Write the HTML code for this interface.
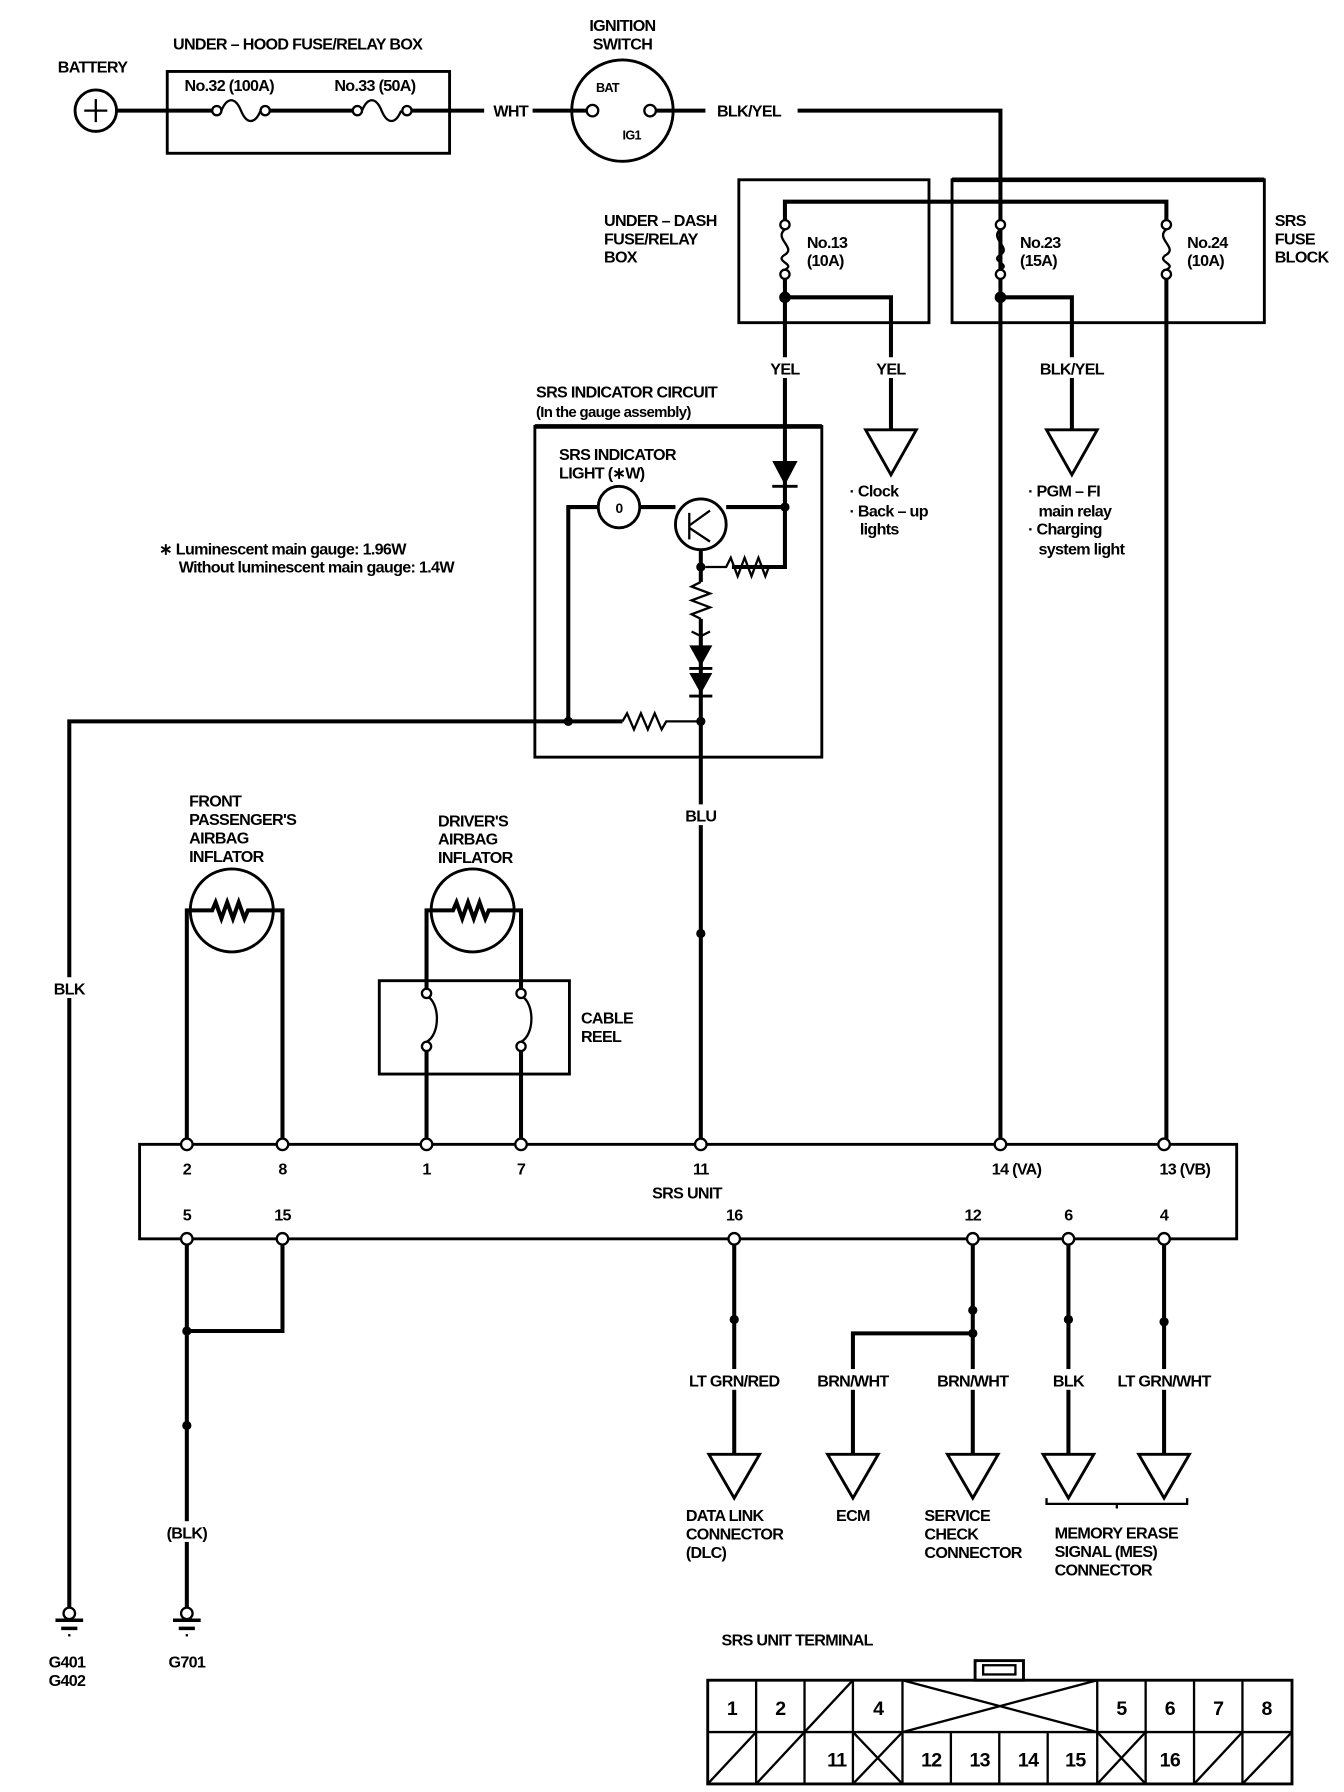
<!DOCTYPE html>
<html><head><meta charset="utf-8"><style>
html,body{margin:0;padding:0;background:#fff;}
svg{display:block;}
text{font-family:"Liberation Sans",sans-serif;font-weight:bold;font-size:14px;fill:#000;letter-spacing:-0.6px;}
.w{stroke:#000;stroke-width:3.5;fill:none;}
.t{stroke:#000;stroke-width:2;fill:none;}
.b{stroke:#000;stroke-width:2.5;fill:none;}
.o{fill:#fff;stroke:#000;stroke-width:2;}
.n{fill:#000;}
</style></head><body>
<svg width="1344" height="1792" viewBox="0 0 1166 1555" xmlns="http://www.w3.org/2000/svg">
<!-- top section -->
<text x="50" y="63">BATTERY</text>
<circle cx="83" cy="96" r="18" class="b"/>
<path d="M73 96h20M83 86v20" class="t"/>
<text x="150" y="43">UNDER – HOOD FUSE/RELAY BOX</text>
<rect x="145" y="62" width="245" height="71" class="b"/>
<text x="160" y="79">No.32 (100A)</text>
<text x="290" y="79">No.33 (50A)</text>
<path d="M101 96H184M234 96H306M357 96H420" class="w"/>
<path d="M192 96c5-12 12-12 17 0s12 12 17 0M314 96c5-12 12-12 17 0s12 12 17 0" class="t"/>
<circle cx="188" cy="96" r="4" class="o"/><circle cx="230" cy="96" r="4" class="o"/>
<circle cx="310" cy="96" r="4" class="o"/><circle cx="353" cy="96" r="4" class="o"/>
<text x="428" y="101">WHT</text>
<path d="M462 96H510" class="w"/>
<text x="540" y="27" text-anchor="middle">IGNITION</text>
<text x="540" y="43" text-anchor="middle">SWITCH</text>
<circle cx="540" cy="96" r="44" class="b"/>
<text x="527" y="80" text-anchor="middle" style="font-size:11px">BAT</text>
<text x="548" y="121" text-anchor="middle" style="font-size:11px">IG1</text>
<circle cx="514" cy="96" r="5" class="o"/><circle cx="564" cy="96" r="5" class="o"/>
<path d="M569 96H612" class="w"/>
<text x="622" y="101">BLK/YEL</text>
<path d="M692 96H868V993" class="w"/>
<!-- fuse boxes -->
<rect x="641" y="156" width="165" height="124" class="b"/>
<rect x="826" y="156" width="271" height="124" class="b"/>
<path d="M826 156H1097" stroke="#000" stroke-width="4"/>
<path d="M681 191V175H1012V191" class="w"/>
<text x="524" y="196">UNDER – DASH</text>
<text x="524" y="212">FUSE/RELAY</text>
<text x="524" y="228">BOX</text>
<text x="1106" y="196">SRS</text>
<text x="1106" y="212">FUSE</text>
<text x="1106" y="228">BLOCK</text>
<g>
<path d="M681 199c-10 8 10 16 0 22s10 8 0 13" class="t"/>
<circle cx="681" cy="195" r="4" class="o"/><circle cx="681" cy="238" r="4" class="o"/>
<path d="M681 242V373" class="w"/>
<path d="M868 199c-10 8 10 16 0 22s10 8 0 13" class="t"/>
<circle cx="868" cy="195" r="4" class="o"/><circle cx="868" cy="238" r="4" class="o"/>
<path d="M1012 199c-10 8 10 16 0 22s10 8 0 13" class="t"/>
<circle cx="1012" cy="195" r="4" class="o"/><circle cx="1012" cy="238" r="4" class="o"/>
<path d="M1012 242V993" class="w"/>
</g>
<text x="700" y="215">No.13</text><text x="700" y="231">(10A)</text>
<text x="885" y="215">No.23</text><text x="885" y="231">(15A)</text>
<text x="1030" y="215">No.24</text><text x="1030" y="231">(10A)</text>
<circle cx="681" cy="258" r="5" class="n"/><circle cx="868" cy="258" r="5" class="n"/>
<path d="M681 258H773V373M868 258H930V373" class="w"/>
<rect x="668" y="310" width="28" height="18" fill="#fff"/>
<rect x="760" y="310" width="28" height="18" fill="#fff"/>
<rect x="900" y="310" width="60" height="18" fill="#fff"/>
<text x="681" y="325" text-anchor="middle">YEL</text>
<text x="773" y="325" text-anchor="middle">YEL</text>
<text x="930" y="325" text-anchor="middle">BLK/YEL</text>
<path d="M751 373H795L773 412Z" class="b"/>
<path d="M908 373H952L930 412Z" class="b"/>
<text x="737" y="431">· Clock</text>
<text x="737" y="448">· Back – up</text>
<text x="746" y="464">lights</text>
<text x="892" y="431">· PGM – FI</text>
<text x="901" y="448">main relay</text>
<text x="892" y="464">· Charging</text>
<text x="901" y="481">system light</text>
<!-- indicator circuit -->
<text x="465" y="345">SRS INDICATOR CIRCUIT</text>
<text x="465" y="362" style="font-size:13px">(In the gauge assembly)</text>
<rect x="464" y="370" width="249" height="287" class="b"/>
<path d="M464 370H713" stroke="#000" stroke-width="4"/>
<text x="485" y="399">SRS INDICATOR</text>
<text x="485" y="415">LIGHT (∗W)</text>
<path d="M681 373V492H635" class="w"/>
<path d="M670 400H692L681 421Z" class="n"/>
<path d="M670 422H692" class="b"/>
<circle cx="681" cy="440" r="4" class="n"/>
<path d="M493 626V440H519M555 440H586M630 440H681" class="w"/>
<circle cx="537" cy="440" r="18" class="b"/>
<text x="537" y="445" text-anchor="middle" style="font-size:12px">0</text>
<circle cx="608" cy="455" r="22" class="b"/>
<path d="M598 445V468M598 456L616 443M598 458L616 470" class="t"/>
<path d="M608 477V505" class="w"/>
<circle cx="608" cy="492" r="4" class="n"/>
<path d="M612 492h18l4-8 6 16 6-16 6 16 6-16 6 16 3-8" class="t"/>
<path d="M608 505l-8 4 16 6-16 6 16 6-16 6 8 4" class="t"/>
<path d="M608 537V626" class="w"/>
<path d="M600 548l8 4 8-4" class="t"/>
<path d="M598 560H618L608 578Z" class="n"/>
<path d="M598 580H618" class="b"/>
<path d="M598 584H618L608 602Z" class="n"/>
<path d="M598 604H618" class="b"/>
<path d="M60 1395V626H540" class="w"/>
<path d="M540 626l4-7 6 14 6-14 6 14 6-14 6 14 4-7H608" class="t"/>
<circle cx="493" cy="626" r="4" class="n"/><circle cx="608" cy="626" r="4" class="n"/>
<text x="138" y="481">∗ Luminescent main gauge: 1.96W</text>
<text x="155" y="497">Without luminescent main gauge: 1.4W</text>
<path d="M608 626V993" class="w"/>
<rect x="592" y="698" width="32" height="18" fill="#fff"/>
<text x="608" y="713" text-anchor="middle">BLU</text>
<circle cx="608" cy="810" r="4" class="n"/>
<rect x="45" y="848" width="30" height="18" fill="#fff"/>
<text x="60" y="863" text-anchor="middle">BLK</text>
<!-- inflators -->
<text x="164" y="700">FRONT</text><text x="164" y="716">PASSENGER'S</text>
<text x="164" y="732">AIRBAG</text><text x="164" y="748">INFLATOR</text>
<circle cx="201" cy="790" r="36" class="b"/>
<path d="M162 993V790H184l3-7 5 14 5-14 5 14 5-14 5 14 3-7H245V993" class="w"/>
<text x="380" y="717">DRIVER'S</text><text x="380" y="733">AIRBAG</text><text x="380" y="749">INFLATOR</text>
<circle cx="410" cy="790" r="36" class="b"/>
<path d="M370 860V790H393l3-7 5 14 5-14 5 14 5-14 5 14 3-7H452V860" class="w"/>
<rect x="329" y="851" width="165" height="81" class="b"/>
<text x="504" y="888">CABLE</text><text x="504" y="904">REEL</text>
<path d="M370 864c12 6 12 34 0 40M452 864c12 6 12 34 0 40" class="t"/>
<circle cx="370" cy="862" r="4" class="o"/><circle cx="370" cy="908" r="4" class="o"/>
<circle cx="452" cy="862" r="4" class="o"/><circle cx="452" cy="908" r="4" class="o"/>
<path d="M370 912V993M452 912V993" class="w"/>
<!-- SRS unit -->
<rect x="121" y="993" width="952" height="82" class="b"/>
<g class="o">
<circle cx="162" cy="993" r="5"/><circle cx="245" cy="993" r="5"/><circle cx="370" cy="993" r="5"/>
<circle cx="452" cy="993" r="5"/><circle cx="608" cy="993" r="5"/><circle cx="868" cy="993" r="5"/><circle cx="1010" cy="993" r="5"/>
</g>
<g text-anchor="middle">
<text x="162" y="1019">2</text><text x="245" y="1019">8</text><text x="370" y="1019">1</text>
<text x="452" y="1019">7</text><text x="608" y="1019">11</text><text x="882" y="1019">14 (VA)</text><text x="1028" y="1019">13 (VB)</text>
<text x="596" y="1040">SRS UNIT</text>
<text x="162" y="1059">5</text><text x="245" y="1059">15</text><text x="637" y="1059">16</text>
<text x="844" y="1059">12</text><text x="927" y="1059">6</text><text x="1010" y="1059">4</text>
</g>
<path d="M162 1080V1395M245 1080V1155H162M637 1080V1262M844 1080V1262M844 1157H740V1262M927 1080V1262M1010 1080V1262" class="w"/>
<g class="o">
<circle cx="162" cy="1075" r="5"/><circle cx="245" cy="1075" r="5"/><circle cx="637" cy="1075" r="5"/>
<circle cx="844" cy="1075" r="5"/><circle cx="927" cy="1075" r="5"/><circle cx="1010" cy="1075" r="5"/>
</g>
<g class="n">
<circle cx="162" cy="1155" r="4"/><circle cx="162" cy="1237" r="4"/><circle cx="637" cy="1145" r="4"/>
<circle cx="844" cy="1137" r="4"/><circle cx="844" cy="1157" r="4"/><circle cx="927" cy="1145" r="4"/><circle cx="1010" cy="1147" r="4"/>
</g>
<rect x="592" y="1188" width="92" height="18" fill="#fff"/>
<rect x="704" y="1188" width="72" height="18" fill="#fff"/>
<rect x="808" y="1188" width="72" height="18" fill="#fff"/>
<rect x="912" y="1188" width="30" height="18" fill="#fff"/>
<rect x="960" y="1188" width="98" height="18" fill="#fff"/>
<g text-anchor="middle">
<text x="637" y="1203">LT GRN/RED</text><text x="740" y="1203">BRN/WHT</text><text x="844" y="1203">BRN/WHT</text>
<text x="927" y="1203">BLK</text><text x="1010" y="1203">LT GRN/WHT</text>
</g>
<g class="b">
<path d="M615 1262H659L637 1300Z"/><path d="M718 1262H762L740 1300Z"/><path d="M822 1262H866L844 1300Z"/>
<path d="M905 1262H949L927 1300Z"/><path d="M988 1262H1032L1010 1300Z"/>
</g>
<text x="595" y="1320">DATA LINK</text><text x="595" y="1336">CONNECTOR</text><text x="595" y="1352">(DLC)</text>
<text x="740" y="1320" text-anchor="middle">ECM</text>
<text x="802" y="1320">SERVICE</text><text x="802" y="1336">CHECK</text><text x="802" y="1352">CONNECTOR</text>
<path d="M908 1300v5H1030v-5M969 1305v4" class="t"/>
<text x="915" y="1335">MEMORY ERASE</text><text x="915" y="1351">SIGNAL (MES)</text><text x="915" y="1367">CONNECTOR</text>
<rect x="140" y="1320" width="44" height="18" fill="#fff"/>
<text x="162" y="1335" text-anchor="middle">(BLK)</text>
<!-- grounds -->
<g>
<circle cx="60" cy="1400" r="5" class="o"/><path d="M48 1406H72" stroke="#000" stroke-width="3"/><path d="M53 1413H67" stroke="#000" stroke-width="3"/><path d="M59 1419H61" stroke="#000" stroke-width="2"/>
<circle cx="162" cy="1400" r="5" class="o"/><path d="M150 1406H174" stroke="#000" stroke-width="3"/><path d="M155 1413H169" stroke="#000" stroke-width="3"/><path d="M161 1419H163" stroke="#000" stroke-width="2"/>
</g>
<text x="58" y="1447" text-anchor="middle">G401</text><text x="58" y="1463" text-anchor="middle">G402</text>
<text x="162" y="1447" text-anchor="middle">G701</text>
<!-- connector -->
<text x="626" y="1428">SRS UNIT TERMINAL</text>
<rect x="846" y="1441" width="42" height="17" class="b"/>
<rect x="853" y="1445" width="28" height="8" class="t"/>
<rect x="614" y="1458" width="507" height="90" class="b"/>
<path d="M614 1503H1121" class="t"/>
<g class="t">
<path d="M656 1458V1548M698 1458V1548M740 1458V1548M783 1458V1548M825 1503V1548M867 1503V1548M909 1503V1548M952 1458V1548M994 1458V1548M1036 1458V1548M1078 1458V1548"/>
<path d="M698 1503L740 1458M783 1458L952 1503M783 1503L952 1458"/>
<path d="M614 1548L656 1503M656 1548L698 1503M740 1548L783 1503M740 1503L783 1548M952 1503L994 1548M952 1548L994 1503M1036 1548L1078 1503M1078 1548L1121 1503"/>
</g>
<g text-anchor="middle">
<text x="635" y="1488" style="font-size:17px">1</text><text x="677" y="1488" style="font-size:17px">2</text><text x="762" y="1488" style="font-size:17px">4</text>
<text x="973" y="1488" style="font-size:17px">5</text><text x="1015" y="1488" style="font-size:17px">6</text><text x="1057" y="1488" style="font-size:17px">7</text><text x="1099" y="1488" style="font-size:17px">8</text>
<text x="726" y="1533" style="font-size:17px">11</text><text x="808" y="1533" style="font-size:17px">12</text><text x="850" y="1533" style="font-size:17px">13</text>
<text x="892" y="1533" style="font-size:17px">14</text><text x="933" y="1533" style="font-size:17px">15</text><text x="1015" y="1533" style="font-size:17px">16</text>
</g>
</svg>
</body></html>
